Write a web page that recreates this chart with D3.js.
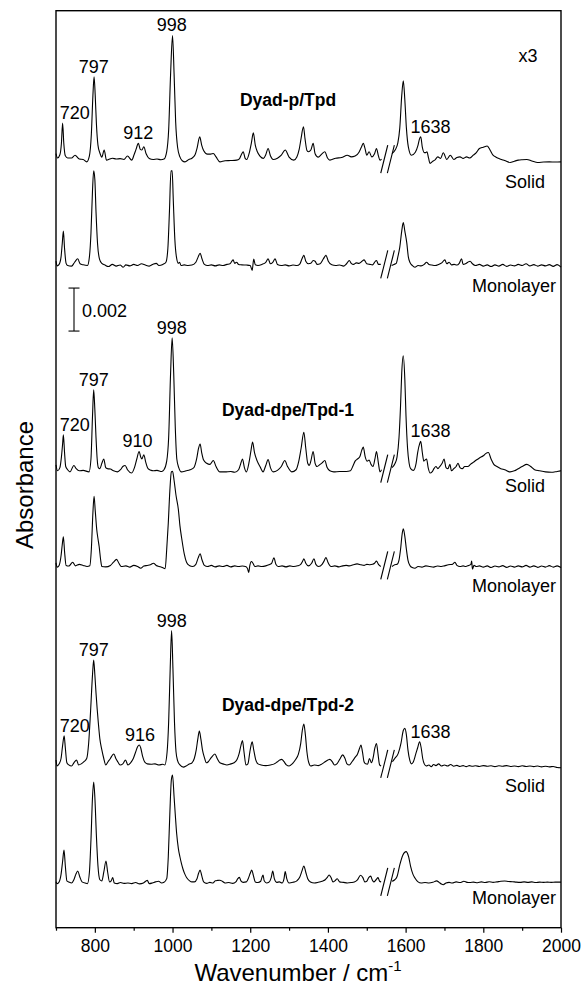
<!DOCTYPE html>
<html>
<head>
<meta charset="utf-8">
<script src="https://cdn.jsdelivr.net/npm/d3@7"></script>
<style>
  body { margin: 0; background: #fff; }
  text { font-family: "Liberation Sans", Arial, sans-serif; fill: #000; }
</style>
</head>
<body>
<div id="chart"></div>
<script>
// absorbance values in units of 1e-4, relative to each trace's own baseline
const traceNames = ["Dyad-p/Tpd", "Dyad-dpe/Tpd-1", "Dyad-dpe/Tpd-2"];
const sampleTypes = ["Solid", "Monolayer", "Solid", "Monolayer", "Solid", "Monolayer"];
const traceOffsets = [357, 308, 213, 168, 75.7, 20.8];
const majorTicks = [800, 1000, 1200, 1400, 1600, 1800, 2000];
const minorTicks = [700, 900, 1100, 1300, 1500, 1700, 1900];
const breakWn = [1545, 1562];
const scaleBar = [277.5, 297.5]; // 0.002
const peakLabels = [
  [0, 720, "720"], [0, 797, "797"], [0, 912, "912"], [0, 998, "998"], [0, 1638, "1638"],
  [2, 720, "720"], [2, 797, "797"], [2, 910, "910"], [2, 998, "998"], [2, 1638, "1638"],
  [4, 720, "720"], [4, 797, "797"], [4, 916, "916"], [4, 998, "998"], [4, 1638, "1638"]
];

const solidP = [
  [700,3],[704,1],[710,2.5],[714,8],[717,17.3],[720,8],[724,2],[730,1],[740,1],[749,2.3],[760,0.5],[770,0.3],[779,-0.8],[786,2],[791,12],[795,30],[798,38.7],[801,30],[804,17],[808,7],[813,3.3],[818,1.4],[824,4.7],[830,0],[838,0.5],[845,0.9],[855,0.5],[865,0.7],[875,0.3],[884,1.9],[895,0],[901,2.5],[906,5],[912,7.8],[917,5],[921,4.7],[926,6.2],[932,3],[940,0.8],[950,0.3],[960,0.5],[970,0.2],[978,0.5],[985,4],[990,14],[995,40],[1000,58],[1004,40],[1008,18],[1013,6],[1019,1.5],[1025,-0.3],[1032,-0.8],[1042,0.3],[1050,0.9],[1058,2.5],[1063,5.5],[1070,10.8],[1075,7],[1080,4.5],[1090,2.8],[1098,2.8],[1105,3.1],[1112,1.5],[1122,-0.8],[1135,-0.3],[1150,-0.2],[1165,0],[1172,0.6],[1177,2.5],[1182,3.9],[1187,0.8],[1191,0.3],[1197,3],[1203,8],[1208,12.7],[1213,7],[1218,4],[1225,1.9],[1234,0.8],[1240,2.5],[1246,5.4],[1252,2],[1259,0.3],[1270,0.9],[1280,2.3],[1290,4.7],[1300,1.4],[1312,0],[1320,1.5],[1326,5],[1331,10.2],[1337,15.5],[1341,10],[1346,4.5],[1350,3.9],[1356,4.7],[1362,7.8],[1367,3],[1375,1.4],[1384,2.8],[1392,3.9],[1399,1],[1405,0],[1420,0.9],[1435,1.2],[1450,2.3],[1460,1.5],[1470,1.9],[1480,3.7],[1486,6],[1491,7.8],[1496,5],[1500,2.3],[1506,3.9],[1513,1.5],[1520,3],[1525,5.4],[1530,2],[1534,0],[1538,0.5],
  [1550,null],
  [1565,3],[1573,4.7],[1580,8],[1585,15],[1590,30],[1594,36.9],[1598,28],[1602,15],[1607,6.2],[1615,2.3],[1625,3.7],[1632,7],[1636,10],[1639,10.8],[1643,6],[1648,3.5],[1652,3.5],[1655,3.9],[1659,1],[1663,-1.5],[1670,-0.5],[1675,0],[1683,1.5],[1690,0.8],[1697,3.4],[1706,0.3],[1715,2.3],[1724,0.3],[1732,1.2],[1740,1.5],[1748,0.8],[1757,1.5],[1765,1],[1774,2.3],[1782,3.5],[1790,5.4],[1800,6],[1810,6.6],[1818,4.5],[1825,2.3],[1832,1.5],[1840,0.8],[1855,-0.2],[1869,-1.1],[1880,-0.5],[1890,0],[1900,0.2],[1912,0.3],[1925,-0.4],[1940,-1.1],[1955,-0.9],[1970,-0.8],[1985,-0.9],[2000,-0.8]
];

const monoP = [
  [700,2],[703,-0.2],[708,0.5],[713,4],[716,10],[719,16],[722,8],[726,1],[730,0],[740,-0.3],[748,1.5],[756,3.1],[762,0.8],[770,0.3],[781,0],[786,4],[790,15],[794,35],[797,44],[800,40],[803,25],[807,10],[812,3],[818,1],[825,0.3],[835,-0.5],[845,0.5],[855,-0.3],[865,0.2],[873,-0.8],[880,0.3],[890,-0.2],[900,0.5],[910,0],[920,0.8],[930,0.2],[940,-0.3],[950,0.6],[958,1],[965,0],[975,0.5],[983,1.5],[988,8],[992,25],[996,44],[999,44],[1002,30],[1006,12],[1010,4],[1015,1],[1018,1.5],[1022,0],[1030,0.3],[1040,0],[1050,0.2],[1060,1.5],[1066,4],[1071,5.7],[1076,3],[1082,0.5],[1090,0],[1100,0.3],[1110,-0.2],[1120,0.3],[1130,0],[1140,0.5],[1148,0.8],[1156,2.6],[1160,1],[1165,1.5],[1170,0.5],[1178,0.3],[1190,0.2],[1200,0],[1205,-2.3],[1209,3],[1213,0.3],[1220,0],[1230,0.5],[1240,1.5],[1246,3.1],[1252,0.8],[1258,1.5],[1264,3.1],[1270,0.5],[1280,0],[1290,0.3],[1300,-0.2],[1310,0.2],[1320,0],[1328,0.8],[1333,3],[1338,4.7],[1343,2],[1350,0.8],[1356,1],[1362,2.3],[1367,2],[1372,0.5],[1380,0.8],[1388,3],[1395,4.7],[1401,2],[1410,0.3],[1420,0],[1430,0.2],[1440,-0.3],[1448,0.8],[1455,2.3],[1460,1],[1466,0.5],[1473,1.2],[1480,1],[1488,2],[1493,2.6],[1500,0.8],[1508,0.5],[1515,0.3],[1520,1.5],[1525,2.3],[1530,0.5],[1536,0.5],
  [1550,null],
  [1564,0],[1570,0.5],[1576,1],[1580,4],[1585,8.5],[1590,16],[1594,20],[1598,16],[1603,10.5],[1607,4],[1611,1.5],[1617,0],[1624,-0.8],[1632,0],[1640,-0.2],[1648,0.5],[1654,1.5],[1660,0.5],[1668,0.2],[1676,0],[1685,0.5],[1693,1.2],[1701,2.6],[1706,0.8],[1712,1.5],[1718,0.3],[1725,0.5],[1732,0.2],[1738,1],[1744,3.1],[1748,0.5],[1754,0.8],[1760,1.5],[1766,2],[1772,0.8],[1780,0],[1790,0.5],[1800,-0.3],[1810,0.3],[1820,-0.5],[1830,0.3],[1840,-0.3],[1850,0.5],[1860,-0.4],[1870,0.2],[1880,-0.2],[1890,0.5],[1900,0],[1910,0.8],[1920,-0.2],[1930,0.4],[1940,-0.3],[1950,0.3],[1960,-0.2],[1970,0.4],[1980,-0.4],[1990,0.4],[2000,-0.8]
];

const solidDpe1 = [
  [700,2.3],[704,-0.5],[710,1],[714,6],[717,12],[719,16.3],[722,8],[725,1.5],[730,0],[736,-1],[746,2],[752,0.5],[760,-0.5],[770,-0.3],[785,-1],[790,5],[794,25],[797,37.2],[800,28],[803,15],[806,5],[809,1],[813,0.5],[818,3],[823,5],[828,1],[833,0.5],[840,0.3],[848,-0.5],[858,-1],[866,0],[872,1.5],[878,2],[884,0],[895,-1.5],[902,1],[908,5],[914,8.5],[918,6],[921,5],[926,7],[931,3.5],[937,0.5],[945,-0.3],[950,-0.5],[960,-0.3],[972,-0.8],[978,0],[985,4],[990,15],[995,45],[999,61.4],[1003,45],[1007,20],[1011,5],[1016,1],[1023,-1],[1035,-0.5],[1045,0],[1055,1],[1062,5],[1067,10],[1071,12],[1075,8],[1080,4.5],[1088,3],[1096,2.5],[1105,4.3],[1112,1.5],[1122,-1],[1135,-1],[1150,-0.8],[1160,-1.2],[1170,0],[1175,2.5],[1180,5],[1185,1],[1190,-1],[1197,3.5],[1202,9],[1206,12.9],[1211,8],[1218,4],[1225,1.5],[1233,-1],[1240,2],[1246,4.7],[1252,1],[1259,-1],[1270,-0.3],[1280,1.5],[1289,4.3],[1296,1.5],[1307,-1],[1318,0],[1325,4],[1331,10],[1338,17.4],[1343,10],[1348,3],[1352,2],[1356,4],[1362,8.5],[1367,3],[1372,1.5],[1380,2.5],[1385,3.2],[1392,4.3],[1398,1],[1405,-0.5],[1415,-1],[1430,-0.8],[1447,-0.8],[1458,-0.5],[1465,2],[1470,4],[1476,5],[1482,6],[1487,9],[1491,10.5],[1496,6],[1501,4],[1506,4.5],[1511,2.5],[1516,1.5],[1521,5],[1525,8.5],[1530,3],[1534,-1],[1538,0],
  [1550,null],
  [1565,1],[1573,3],[1578,6],[1583,15],[1587,30],[1590,45],[1594,53],[1598,42],[1601,25],[1605,10],[1609,3],[1613,0.5],[1620,-0.3],[1627,3],[1631,8],[1636,12],[1639,13.2],[1643,8],[1647,4],[1650,4.5],[1654,5],[1658,1],[1663,-1.5],[1668,-1],[1673,0.5],[1678,1.5],[1683,0.5],[1688,1.5],[1694,3],[1699,5],[1704,1],[1709,0.5],[1714,2.5],[1718,-0.5],[1724,0.5],[1730,1.5],[1735,3],[1740,1],[1746,0.5],[1752,1.5],[1760,1.5],[1767,2.5],[1774,3.4],[1782,4.5],[1790,5.5],[1800,6.5],[1806,7.5],[1813,8],[1820,5],[1827,2.5],[1835,1.5],[1845,0.5],[1855,0],[1869,-1],[1880,-0.5],[1890,0.5],[1900,1.5],[1912,2.5],[1922,1.5],[1932,0],[1945,-0.5],[1960,-1],[1975,-1.2],[1990,-0.8],[2000,-0.5]
];

const monoDpe1 = [
  [700,1.7],[703,-0.3],[708,0.5],[713,5],[716,10],[719,13.8],[722,7],[726,0.5],[733,0.2],[743,2],[750,0.3],[760,1],[770,0.5],[780,0],[787,0.3],[791,8],[795,25],[798,32.7],[801,26],[805,17],[808,13],[811,9.4],[815,3],[818,0],[828,-0.2],[840,0.5],[848,2],[856,3.3],[862,1.5],[868,0],[880,0.3],[890,-0.3],[900,0.5],[910,0],[918,-0.8],[926,0.2],[935,0.5],[943,0.8],[951,1.5],[958,0.5],[966,0],[974,-0.5],[981,-1],[985,8],[989,20],[993,35],[997,44],[1000,44.3],[1004,40],[1009,33],[1015,26.5],[1019,19],[1024,12.6],[1030,6],[1036,2],[1043,0.5],[1052,0],[1060,1],[1066,4],[1071,5.9],[1076,3],[1082,0.5],[1090,0],[1100,0.5],[1110,-0.2],[1120,0.3],[1130,0],[1140,0.5],[1150,-0.2],[1160,0.3],[1170,0],[1180,0.2],[1188,0],[1193,-1],[1196,-2.8],[1199,0.5],[1203,2.3],[1207,1.5],[1212,0],[1220,0.3],[1230,0],[1240,0.3],[1248,0.8],[1255,1.5],[1261,4],[1266,1],[1272,0],[1282,0.3],[1292,-0.2],[1302,0.3],[1312,0],[1322,0.3],[1330,1],[1335,2.5],[1338,3.6],[1343,1.5],[1350,0.3],[1358,1.5],[1364,3.6],[1369,1],[1376,0],[1385,1],[1390,2.5],[1395,4.2],[1400,2],[1408,0],[1418,0.3],[1428,-0.2],[1438,0.3],[1447,0.5],[1455,0.3],[1465,0.8],[1475,1.2],[1485,0.8],[1493,0.5],[1500,1],[1508,0.8],[1515,1],[1520,1.5],[1525,2.5],[1530,1],[1536,0],
  [1550,null],
  [1565,0],[1572,0.8],[1578,1],[1583,3],[1587,8],[1591,15],[1594,17.5],[1598,14],[1602,8],[1606,3],[1611,0.5],[1617,-0.5],[1624,-0.8],[1632,0],[1642,-0.3],[1652,0.3],[1662,0],[1672,-0.3],[1682,0.2],[1692,0],[1700,0.3],[1710,0.8],[1720,1],[1727,2],[1732,0.5],[1740,0],[1748,0.3],[1755,0],[1762,0.5],[1768,1],[1770,2.5],[1772,-1.2],[1776,0.5],[1782,0],[1790,0.3],[1800,-0.3],[1810,0.3],[1820,-0.5],[1830,0.2],[1840,-0.2],[1850,0.4],[1860,-0.4],[1870,0.2],[1880,-0.3],[1890,0.3],[1900,-0.2],[1910,0.5],[1920,-0.3],[1930,0.3],[1940,-0.4],[1950,0.2],[1960,-0.3],[1970,0.4],[1980,-0.3],[1990,0.3],[2000,-0.5]
];

const solidDpe2 = [
  [700,2.3],[703,-0.5],[708,0.5],[713,3],[717,9],[721,13.5],[724,8],[728,1],[733,0],[740,-0.5],[746,1],[753,2.3],[758,0],[765,0.5],[772,1.5],[779,3],[784,10],[789,25],[794,42],[797,48.8],[800,42],[803,33.5],[806,26],[809,19.5],[813,12],[818,7],[823,3],[828,0],[834,1.5],[840,3],[845,4.5],[849,5.1],[854,3],[859,1.5],[865,0],[872,0.5],[879,2.3],[885,0],[892,1],[899,3],[905,6],[910,8.5],[914.5,9.3],[918,8],[923,4],[928,1.5],[935,0.5],[945,0.3],[955,0.5],[965,0],[975,0.3],[980,0],[986,6],[990,20],[994,45],[997.6,62.5],[1001,45],[1005,20],[1009,6],[1013,2],[1019,0],[1028,-1],[1035,-0.5],[1042,0.3],[1050,1],[1056,3],[1061,7],[1065,12],[1069,15.8],[1073,12],[1077,7],[1082,3.5],[1087,1],[1092,1.5],[1100,3.5],[1109,5.1],[1115,3],[1122,1],[1130,0.5],[1140,0],[1150,0.5],[1158,1],[1166,2.5],[1171,5],[1176,9],[1180,11.3],[1184,6],[1189,0],[1194,0.5],[1199,6],[1202,9],[1205,10.8],[1209,7],[1214,2.5],[1220,0.5],[1228,0],[1240,-0.3],[1252,0],[1262,0.5],[1270,1.5],[1276,2.3],[1281,2.6],[1287,1.5],[1293,0],[1300,-0.5],[1308,0.5],[1316,2.3],[1324,5],[1330,10],[1334,16],[1338,19],[1342,14],[1346,6],[1350,1.5],[1356,-0.5],[1365,0],[1375,-0.3],[1385,0.5],[1393,1.5],[1400,2.3],[1405,2.6],[1411,1.5],[1417,0],[1423,0.5],[1430,2.5],[1438,4.7],[1444,3],[1449,0.5],[1455,0],[1462,1.5],[1470,3.5],[1476,5],[1481,7.5],[1485,9.3],[1489,6],[1493,1.5],[1497,0.5],[1502,0.3],[1507,3],[1512,1],[1516,3],[1521,8],[1525,10],[1529,5],[1533,0],[1537,-0.5],
  [1550,null],
  [1566,1.5],[1572,3],[1581,5.4],[1588,10],[1594,16],[1598,17],[1602,14],[1606,7],[1611,2],[1615,0.5],[1620,1.5],[1626,5],[1631,8],[1636,10.8],[1640,8],[1644,3],[1648,0.5],[1653,-0.5],[1660,0],[1666,-0.8],[1672,0.2],[1678,-0.3],[1685,0.5],[1692,-0.5],[1700,0],[1708,-0.5],[1716,0.2],[1724,-0.6],[1732,-0.2],[1740,-0.7],[1748,-0.3],[1756,-0.8],[1764,-0.3],[1772,-0.6],[1780,-0.4],[1790,-0.7],[1800,-0.3],[1810,-0.6],[1820,-0.4],[1830,-0.8],[1840,-0.4],[1850,-0.6],[1860,-0.3],[1870,-0.7],[1880,-0.5],[1890,-0.8],[1900,-0.4],[1910,-0.7],[1920,-0.5],[1930,-0.8],[1940,-0.5],[1950,-0.9],[1960,-0.6],[1970,-0.9],[1980,-0.7],[1990,-1.2],[2000,-1.3]
];

const monoDpe2 = [
  [700,0.6],[703,-0.3],[708,0.5],[713,4],[717,10],[720.6,15.3],[724,8],[728,1],[733,0.5],[740,0],[746,1.5],[751,4],[756,5.6],[761,3],[767,0.5],[775,0],[781,-0.3],[786,5],[790,20],[794,40],[797,47],[800,40],[804,22],[808,8],[813,1.5],[818,1],[823,5],[828.7,10.2],[833,5],[838,0.5],[842,1],[846,2.5],[850,0],[858,-0.3],[866,0.2],[875,-0.2],[885,0],[895,-0.3],[905,0.2],[915,-0.4],[925,0],[935,1.2],[940,-0.3],[948,0],[956,0.5],[964,0.8],[972,0],[978,0.3],[985,2],[989,12],[993,32],[997,48],[1000,50.2],[1004,40],[1007,32],[1010.6,23],[1015,16],[1019,12.2],[1023,9],[1027,6.4],[1032,4],[1037,2.3],[1044,1],[1050,0.5],[1056,0.5],[1063,2],[1067,4.5],[1071,6],[1075,3.5],[1080,0.5],[1088,-0.2],[1096,0.3],[1104,0],[1110,1],[1116,1.2],[1122,1.3],[1128,0.8],[1135,0],[1145,0.2],[1155,-0.2],[1163,0.5],[1168,2],[1172,2.6],[1176,1],[1182,0.3],[1190,0.5],[1196,2.5],[1200,4.5],[1204,6],[1208,3.5],[1213,0.5],[1220,0.2],[1227,0.8],[1230,2.5],[1233,3.7],[1236,1],[1242,0],[1248,0.3],[1254,2.5],[1258,5.6],[1262,2],[1268,0.3],[1275,0.5],[1282,0],[1287,2],[1290,5.3],[1294,2],[1300,0],[1310,0.3],[1320,1],[1327,2.5],[1333,5.5],[1338,7.9],[1343,5],[1348,2],[1355,0.5],[1365,0],[1375,0.3],[1385,0.8],[1393,1.5],[1398,2.5],[1403,3.7],[1408,2.5],[1413,0.5],[1418,1],[1424,2],[1430,0.5],[1440,0.3],[1450,0],[1460,0.2],[1468,0.5],[1476,1.5],[1484,3.6],[1490,2.5],[1495,0.5],[1500,0.8],[1505,2.5],[1510,3.2],[1514,1.5],[1518,0.5],[1524,1.5],[1529,2.5],[1533,0.8],[1537,0.5],
  [1550,null],
  [1565,0.8],[1572,1.5],[1578,3],[1585,8.4],[1593,13],[1601,14.6],[1608,12],[1613,7.6],[1619,4],[1624,2.3],[1632,0.5],[1640,0],[1650,0.2],[1660,0],[1670,0.3],[1680,1],[1686,0.3],[1692,-0.5],[1697,-0.8],[1704,0],[1712,0.3],[1720,0],[1730,0.5],[1740,0.2],[1750,0.8],[1758,0.3],[1766,0.2],[1775,0.4],[1785,0.1],[1795,0.5],[1805,0.2],[1815,0.6],[1825,0.3],[1835,0.5],[1845,0.8],[1855,0.9],[1865,0.7],[1875,0.6],[1885,0.4],[1895,0.3],[1905,0.5],[1915,0.3],[1925,0.5],[1935,0.2],[1945,0.4],[1955,0.3],[1965,0.4],[1975,0.3],[1985,0.4],[2000,0.4]
];

const traces = [solidP, monoP, solidDpe1, monoDpe1, solidDpe2, monoDpe2];

// layout
const W = 584, H = 987;
const plotLeft = 56, plotRight = 561, plotTop = 10.7, plotBottom = 927.7;
const sampleLabelDy = [28, 27, 22, 26, 27, 21];

const svg = d3.select("#chart").append("svg")
  .attr("width", W)
  .attr("height", H);

const x = d3.scaleLinear().domain([700, 2000]).range([plotLeft, plotRight]);
const y = d3.scaleLinear().domain([0, 426.5]).range([plotBottom, plotTop]);

// spectra
traces.forEach((data, i) => {
  const off = traceOffsets[i];
  const line = d3.line()
    .defined(d => d[1] !== null)
    .x(d => x(d[0]))
    .y(d => y(d[1] + off))
    .curve(d3.curveMonotoneX);

  svg.append("path")
    .datum(data)
    .attr("d", line)
    .attr("fill", "none")
    .attr("stroke", "#000")
    .attr("stroke-width", 1.1);

  // axis break marks
  const yc = y(off) - 1;
  breakWn.forEach(wn => {
    svg.append("line")
      .attr("x1", x(wn) - 3.5).attr("y1", yc + 14)
      .attr("x2", x(wn) + 3.5).attr("y2", yc - 14)
      .attr("stroke", "#000")
      .attr("stroke-width", 1.1);
  });

  svg.append("text")
    .attr("x", i % 2 === 0 ? 545 : 556)
    .attr("y", y(off) + sampleLabelDy[i])
    .attr("text-anchor", "end")
    .style("font-size", "18px")
    .text(sampleTypes[i]);
});

// sample names
traceNames.forEach((name, k) => {
  svg.append("text")
    .attr("x", 288)
    .attr("y", y(traceOffsets[k * 2]) - 54)
    .attr("text-anchor", "middle")
    .style("font-size", "17.5px")
    .style("font-weight", "bold")
    .text(name);
});

// peak labels
peakLabels.forEach(([ti, wn, txt]) => {
  const pts = traces[ti].filter(d => d[1] !== null && Math.abs(d[0] - wn) <= 8);
  const peak = d3.max(pts, d => d[1]);
  let anchor = "middle", px = x(wn);
  if (wn === 720) { anchor = "start"; px = x(wn) - 4; }
  if (wn === 1638) { anchor = "start"; px = x(wn) - 10; }
  svg.append("text")
    .attr("x", px)
    .attr("y", y(peak + traceOffsets[ti]) - 4)
    .attr("text-anchor", anchor)
    .style("font-size", "18px")
    .text(txt);
});

// x3
svg.append("text")
  .attr("x", plotRight - 33)
  .attr("y", plotTop + 51)
  .attr("text-anchor", "middle")
  .style("font-size", "18px")
  .text("x3");

// scale bar
const sbx = 74;
const sb = svg.append("g").attr("stroke", "#000").attr("stroke-width", 1.1);
sb.append("line").attr("x1", sbx).attr("x2", sbx).attr("y1", y(scaleBar[0])).attr("y2", y(scaleBar[1]));
sb.append("line").attr("x1", sbx - 5.5).attr("x2", sbx + 5.5).attr("y1", y(scaleBar[0])).attr("y2", y(scaleBar[0]));
sb.append("line").attr("x1", sbx - 5.5).attr("x2", sbx + 5.5).attr("y1", y(scaleBar[1])).attr("y2", y(scaleBar[1]));
svg.append("text")
  .attr("x", sbx + 8)
  .attr("y", (y(scaleBar[0]) + y(scaleBar[1])) / 2 + 7)
  .style("font-size", "18px")
  .text("0.002");

// axes
const xAxis = svg.append("g")
  .attr("transform", `translate(0,${plotBottom})`)
  .call(d3.axisBottom(x).tickValues(majorTicks).tickSize(5).tickPadding(7).tickFormat(d3.format("d")));
xAxis.select(".domain").remove();
xAxis.selectAll("line").attr("stroke-width", 1.2);
xAxis.selectAll("text").style("font-size", "17.5px").attr("font-family", null);

const xMinor = svg.append("g")
  .attr("transform", `translate(0,${plotBottom})`)
  .call(d3.axisBottom(x).tickValues(minorTicks).tickSize(3).tickFormat(""));
xMinor.select(".domain").remove();
xMinor.selectAll("line").attr("stroke-width", 1.2);

// frame
svg.append("rect")
  .attr("x", plotLeft).attr("y", plotTop)
  .attr("width", plotRight - plotLeft).attr("height", plotBottom - plotTop)
  .attr("fill", "none")
  .attr("stroke", "#000")
  .attr("stroke-width", 1.4);

// axis titles
const xt = svg.append("text")
  .attr("x", 298)
  .attr("y", 981)
  .attr("text-anchor", "middle")
  .style("font-size", "24px");
xt.append("tspan").text("Wavenumber / cm");
xt.append("tspan").attr("dy", -10).style("font-size", "15px").text("-1");

svg.append("text")
  .attr("transform", "translate(33,485) rotate(-90)")
  .attr("text-anchor", "middle")
  .style("font-size", "24px")
  .text("Absorbance");
</script>
</body>
</html>
